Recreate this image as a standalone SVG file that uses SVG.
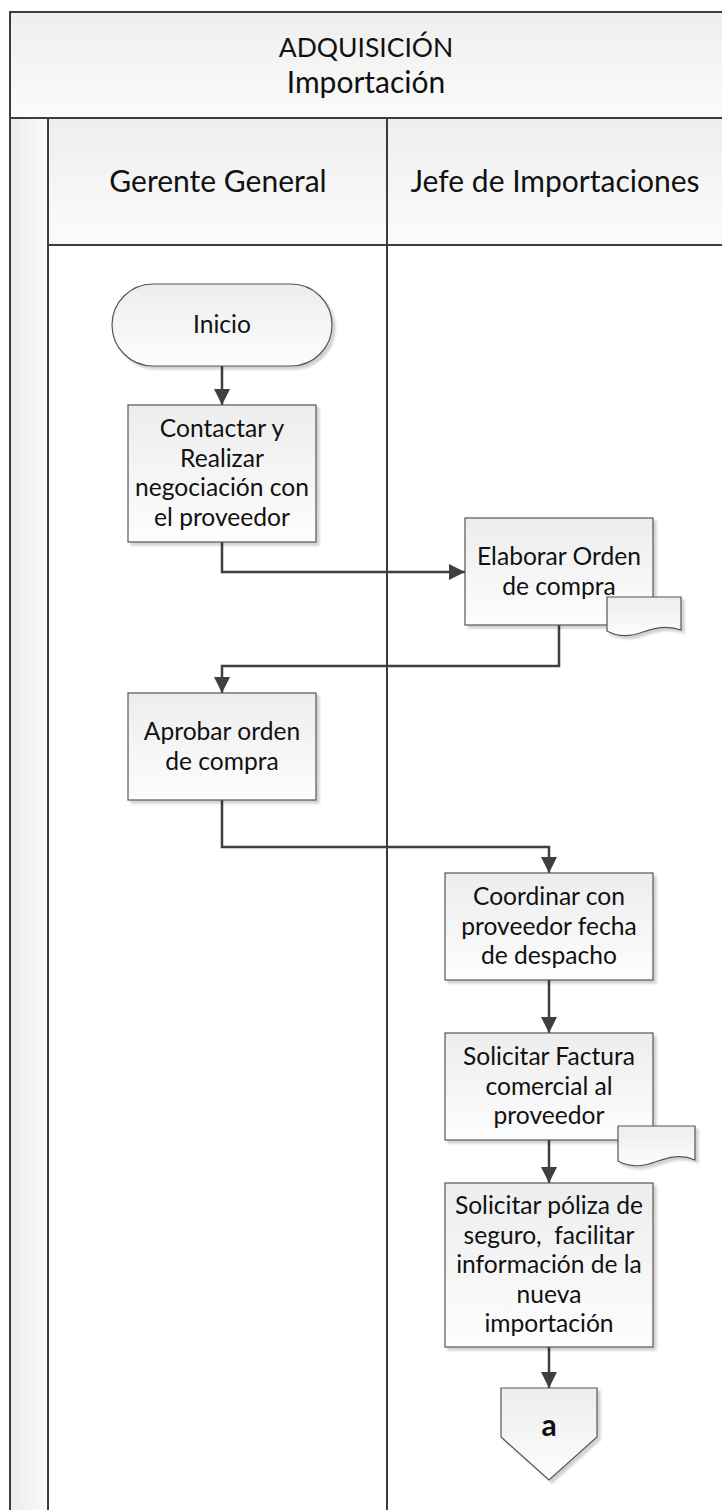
<svg xmlns="http://www.w3.org/2000/svg" width="722" height="1510" viewBox="0 0 722 1510">
<style>
.t{font-family:Lato,"Open Sans","Liberation Sans",sans-serif;fill:#111;text-anchor:middle}
.h{font-size:30px}
.b{font-size:24.6px}
.box{fill:url(#gb);stroke:#555;stroke-width:1.2}
.ln{stroke:#3c3c3c;stroke-width:2}
.c{stroke:#3f3f3f;stroke-width:2.5;fill:none;marker-end:url(#ar)}
</style>
<defs>
<linearGradient id="gh" x1="0" y1="0" x2="0" y2="1"><stop offset="0" stop-color="#eeeeee"/><stop offset="1" stop-color="#fbfbfb"/></linearGradient>
<linearGradient id="gs" x1="0" y1="0" x2="1" y2="0"><stop offset="0" stop-color="#ebebeb"/><stop offset="1" stop-color="#fbfbfb"/></linearGradient>
<linearGradient id="gb" x1="0" y1="0" x2="0" y2="1"><stop offset="0" stop-color="#ededed"/><stop offset="1" stop-color="#fdfdfd"/></linearGradient>
<filter id="sh" x="-10%" y="-10%" width="130%" height="130%"><feDropShadow dx="3" dy="3" stdDeviation="1.2" flood-color="#000" flood-opacity="0.18"/></filter>
<marker id="ar" viewBox="0 0 16 16" refX="16" refY="8" markerWidth="16" markerHeight="16" markerUnits="userSpaceOnUse" orient="auto"><path d="M0,0 L16,8 L0,16 Z" fill="#3f3f3f"/></marker>
</defs>
<g id="pool">
<rect x="10" y="12" width="730" height="1520" fill="#ffffff" class="ln"/>
<rect x="10" y="12" width="730" height="106" fill="url(#gh)" class="ln"/>
<rect x="10" y="118" width="38" height="1420" fill="url(#gs)" class="ln"/>
<rect x="48" y="118" width="692" height="127" fill="url(#gh)" class="ln"/>
<line x1="387" y1="118" x2="387" y2="1520" class="ln"/>
<text class="t" x="366" y="57" font-size="26.5">ADQUISICIÓN</text>
<text class="t h" x="366" y="93">Importación</text>
<text class="t h" x="218" y="192">Gerente General</text>
<text class="t h" x="555" y="192">Jefe de Importaciones</text>
</g>
<g id="connectors">
<path class="c" d="M222,366 V405"/>
<path class="c" d="M222,542 V572 H465"/>
<path class="c" d="M559,625 V666 H222 V693"/>
<path class="c" d="M222,800 V847 H549 V873"/>
<path class="c" d="M549,980 V1033"/>
<path class="c" d="M549,1140 V1183"/>
<path class="c" d="M549,1347 V1388"/>
</g>
<g id="inicio">
<rect class="box" x="112" y="284" width="220" height="82" rx="41" filter="url(#sh)"/>
<text class="t b" x="222" y="333">Inicio</text>
</g>
<g id="contactar">
<rect class="box" x="128" y="405" width="188" height="137" filter="url(#sh)"/>
<text class="t b" x="222" y="437">Contactar y</text>
<text class="t b" x="222" y="466.5">Realizar</text>
<text class="t b" x="222" y="496">negociación con</text>
<text class="t b" x="222" y="525.5">el proveedor</text>
</g>
<g id="elaborar">
<rect class="box" x="465" y="518" width="188" height="107" filter="url(#sh)"/>
<text class="t b" x="559" y="565">Elaborar Orden</text>
<text class="t b" x="559" y="594.5">de compra</text>
<path class="box" d="M607,597 H681 V630 C668,625 656,627 643,632 C630,637 618,637 607,631 Z" filter="url(#sh)"/>
</g>
<g id="aprobar">
<rect class="box" x="128" y="693" width="188" height="107" filter="url(#sh)"/>
<text class="t b" x="222" y="740">Aprobar orden</text>
<text class="t b" x="222" y="769.5">de compra</text>
</g>
<g id="coordinar">
<rect class="box" x="445" y="873" width="208" height="107" filter="url(#sh)"/>
<text class="t b" x="549" y="905">Coordinar con</text>
<text class="t b" x="549" y="934.5">proveedor fecha</text>
<text class="t b" x="549" y="964">de despacho</text>
</g>
<g id="factura">
<rect class="box" x="445" y="1033" width="208" height="107" filter="url(#sh)"/>
<text class="t b" x="549" y="1065">Solicitar Factura</text>
<text class="t b" x="549" y="1094.5">comercial al</text>
<text class="t b" x="549" y="1124">proveedor</text>
<path class="box" d="M618,1126 H695 V1160 C681,1154 669,1157 655,1162 C642,1167 629,1167 618,1161 Z" filter="url(#sh)"/>
</g>
<g id="poliza">
<rect class="box" x="445" y="1183" width="208" height="164" filter="url(#sh)"/>
<text class="t b" x="549" y="1214">Solicitar póliza de</text>
<text class="t b" x="549" y="1243.5" style="white-space:pre">seguro,  facilitar</text>
<text class="t b" x="549" y="1273">información de la</text>
<text class="t b" x="549" y="1302.5">nueva</text>
<text class="t b" x="549" y="1332">importación</text>
</g>
<g id="conector-a">
<polygon class="box" points="501,1388 597,1388 597,1437 549,1480 501,1437" filter="url(#sh)"/>
<text class="t" x="549" y="1436" font-size="30" font-weight="bold">a</text>
</g>
</svg>
